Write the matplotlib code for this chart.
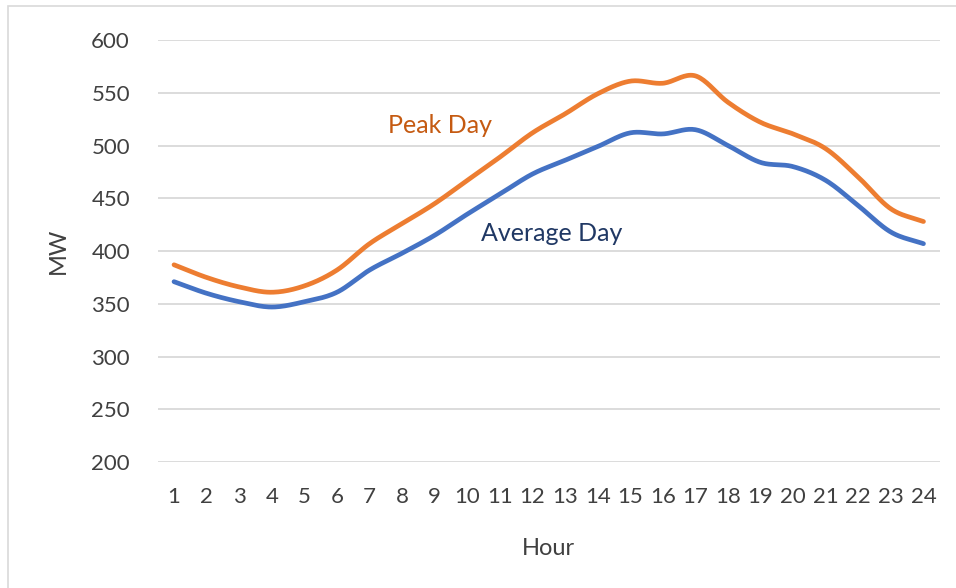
import numpy as np
import matplotlib
matplotlib.use("Agg")
import matplotlib.pyplot as plt
from matplotlib.patches import Rectangle

# Dados
horas = list(range(1, 25))
peak_day = [387, 375, 366, 361, 367, 382, 407, 426, 445, 467, 489, 512,
            530, 549, 561, 559, 566, 541, 522, 511, 497, 470, 440, 428]
average_day = [371, 360, 352, 347, 352, 361, 382, 398, 415, 435, 454, 473,
               486, 499, 512, 511, 515, 500, 484, 480, 467, 443, 418, 407]


def suavizar(x, y, n=20):
    # curva tipo Catmull-Rom, como a "linha suavizada" do Excel
    x = np.asarray(x, float)
    y = np.asarray(y, float)
    px = np.concatenate([[2 * x[0] - x[1]], x, [2 * x[-1] - x[-2]]])
    py = np.concatenate([[2 * y[0] - y[1]], y, [2 * y[-1] - y[-2]]])
    xs, ys = [], []
    t = np.linspace(0, 1, n, endpoint=False)
    for i in range(1, len(px) - 2):
        for p, out in ((px, xs), (py, ys)):
            p0, p1, p2, p3 = p[i - 1], p[i], p[i + 1], p[i + 2]
            out.extend(0.5 * (2 * p1 + (-p0 + p2) * t
                              + (2 * p0 - 5 * p1 + 4 * p2 - p3) * t ** 2
                              + (-p0 + 3 * p1 - 3 * p2 + p3) * t ** 3))
    xs.append(x[-1])
    ys.append(y[-1])
    return xs, ys


plt.rcParams['font.family'] = ['Lato', 'DejaVu Sans']

fig = plt.figure(figsize=(9.56, 5.88), dpi=100)
ax = fig.add_axes([0.165, 0.214, 0.818, 0.718])

fig.patches.append(Rectangle((0.008, -0.01), 1.2, 1.0, transform=fig.transFigure,
                             fill=False, edgecolor="#d9d9d9", linewidth=1.2))

xs, ys = suavizar(horas, peak_day)
ax.plot(xs, ys, color="#ED7D31", linewidth=3.4, solid_capstyle="round")
xs, ys = suavizar(horas, average_day)
ax.plot(xs, ys, color="#4472C4", linewidth=3.4, solid_capstyle="round")

ax.text(9.15, 519, "Peak Day", color="#C55A11", fontsize=18, ha="center", va="center")
ax.text(12.6, 417, "Average Day", color="#203864", fontsize=18, ha="center", va="center")

ax.set_xlim(0.5, 24.5)
ax.set_ylim(200, 600)
ax.set_xticks(horas)
ax.set_xticklabels([str(h) for h in horas])
ax.set_yticks(range(200, 601, 50))
ax.tick_params(length=0, labelsize=16, labelcolor="#404040")
ax.tick_params(axis="x", pad=18)
ax.tick_params(axis="y", pad=20)
ax.grid(axis="y", color="#d9d9d9", linewidth=1.3)
ax.set_axisbelow(True)
for s in ax.spines.values():
    s.set_visible(False)

ax.set_ylabel("MW", fontsize=17, color="#404040", labelpad=16)
ax.set_xlabel("Hour", fontsize=17, color="#404040", labelpad=22)

fig.savefig("out.png", dpi=100)
